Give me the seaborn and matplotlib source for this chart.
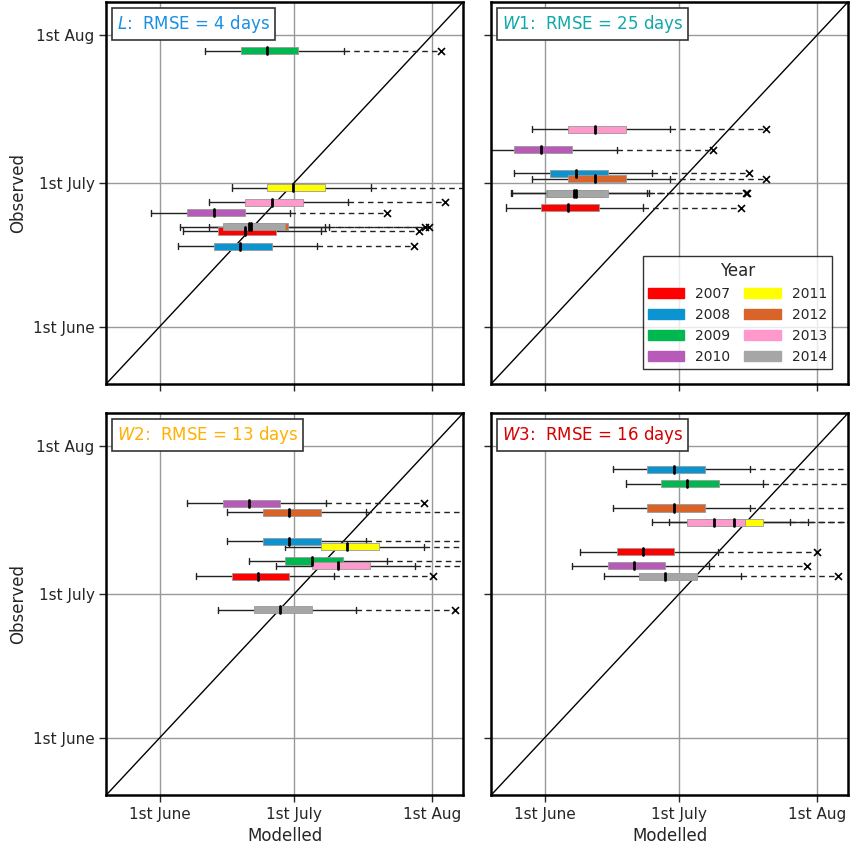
import matplotlib
matplotlib.use("Agg")
import matplotlib.pyplot as plt
import matplotlib.patches as mpatches
import seaborn as sns

sns.set_style("white")
plt.rcParams['font.family'] = ['DejaVu Sans']

years = [2007, 2008, 2009, 2010, 2011, 2012, 2013, 2014]
year_colors = ['#ff0000', '#0b94d0', '#00b84f', '#b85ab8', '#ffff00', '#d8642a', '#ff99cc', '#a6a6a6']

# day of year: 152 = 1st June, 182 = 1st July, 213 = 1st Aug
# per year: observed, whisker low, q1, median, q3, whisker high, max (x marker)
L_obs = [172.0, 168.8, 209.7, 175.8, 181.1, 172.9, 178.0, 172.9]
L_stats = [
    [157.2, 165.0, 171.1, 178.1, 188.2, 210.0],
    [156.0, 164.1, 170.0, 177.2, 187.3, 208.9],
    [162.1, 170.2, 176.0, 183.0, 193.3, 215.0],
    [150.0, 158.0, 164.1, 171.1, 181.2, 203.0],
    [168.2, 176.0, 181.9, 189.1, 199.2, 225.0],
    [163.0, 167.0, 172.5, 180.8, 189.0, 211.5],
    [163.0, 171.1, 177.2, 184.1, 194.2, 216.0],
    [156.5, 166.2, 172.0, 180.1, 189.8, 212.2],
]
W1_obs = [176.9, 184.1, 179.9, 189.0, 250.0, 182.9, 193.3, 179.9]
W1_stats = [
    [143.3, 151.1, 157.1, 164.1, 174.1, 196.0],
    [145.1, 153.1, 159.1, 166.1, 176.1, 197.8],
    [144.4, 152.2, 158.5, 165.5, 175.0, 197.4],
    [138.0, 145.1, 151.1, 158.0, 168.1, 189.7],
    [0, 0, 0, 0, 0, 0],
    [149.1, 157.1, 163.2, 170.1, 180.1, 201.6],
    [149.1, 157.1, 163.2, 170.1, 180.1, 201.6],
    [144.6, 152.4, 159.1, 166.1, 175.4, 197.1],
]
W2_obs = [185.8, 193.1, 189.0, 201.1, 192.0, 199.2, 188.0, 178.8]
W2_stats = [
    [160.1, 168.2, 174.0, 181.0, 191.1, 213.1],
    [167.0, 175.1, 181.0, 188.2, 198.3, 224.0],
    [172.0, 180.1, 186.2, 193.1, 203.0, 227.0],
    [158.1, 166.2, 172.0, 179.0, 189.3, 211.1],
    [180.1, 188.2, 194.0, 201.2, 211.1, 226.0],
    [167.0, 175.1, 181.0, 188.2, 198.3, 225.0],
    [178.1, 186.2, 192.0, 199.0, 209.1, 228.0],
    [165.0, 173.1, 179.0, 186.2, 196.0, 218.1],
]
W3_obs = [190.9, 208.2, 205.2, 188.0, 197.1, 200.1, 197.1, 185.8]
W3_stats = [
    [160.0, 168.1, 174.1, 181.0, 190.8, 212.9],
    [167.2, 175.0, 181.0, 187.9, 198.0, 225.0],
    [170.1, 178.1, 183.9, 191.1, 200.9, 226.0],
    [158.0, 166.1, 172.1, 179.0, 188.8, 210.7],
    [179.9, 188.0, 194.4, 200.9, 210.9, 227.0],
    [167.2, 175.0, 181.0, 187.9, 198.0, 225.0],
    [176.1, 183.9, 190.0, 196.9, 206.9, 228.0],
    [165.2, 173.0, 179.0, 186.0, 196.0, 217.6],
]

# drawing order per panel (later on top)
panels = [
    ("L", "4", '#1a8fe3', L_obs, L_stats, [5, 0, 1, 2, 3, 4, 6, 7]),
    ("W1", "25", '#12a8a8', W1_obs, W1_stats, [2, 0, 1, 3, 5, 7, 6]),
    ("W2", "13", '#ffb000', W2_obs, W2_stats, [0, 1, 2, 3, 5, 4, 7, 6]),
    ("W3", "16", '#d40000', W3_obs, W3_stats, [0, 1, 2, 3, 5, 4, 6, 7]),
]

tick_pos = [152, 182, 213]
tick_lab = ["1st June", "1st July", "1st Aug"]
lim = (140, 220)
bh = 1.5
ch = 1.3

fig, axes = plt.subplots(2, 2, figsize=(8.5, 8.48), dpi=100, sharex=True, sharey=True)
fig.subplots_adjust(left=0.125, right=0.998, top=0.998, bottom=0.0625, wspace=0.078, hspace=0.076)

for ax, (name, rmse, tcol, obs, stats, ordr) in zip(axes.flat, panels):
    ax.set_xlim(lim)
    ax.set_ylim(lim)
    ax.set_xticks(tick_pos)
    ax.set_yticks(tick_pos)
    ax.set_xticklabels(tick_lab, fontsize=11)
    ax.set_yticklabels(tick_lab, fontsize=11)
    ax.grid(True, color='#999999', lw=1)
    ax.set_axisbelow(True)
    ax.tick_params(length=5, width=1, direction='out', bottom=True, left=True)
    for s in ax.spines.values():
        s.set_color('black')
        s.set_linewidth(1.8)
    sns.lineplot(x=list(lim), y=list(lim), ax=ax, color='black', lw=1)
    for i in ordr:
        lo, q1, med, q3, hi, mx = stats[i]
        y = obs[i]
        ax.plot([lo, q1], [y, y], color='#222222', lw=1)
        ax.plot([q3, hi], [y, y], color='#222222', lw=1)
        ax.plot([lo, lo], [y - ch / 2, y + ch / 2], color='#222222', lw=1)
        ax.plot([hi, hi], [y - ch / 2, y + ch / 2], color='#222222', lw=1)
        ax.plot([hi, mx], [y, y], color='#222222', lw=1, ls=(0, (4, 3)))
        ax.add_patch(mpatches.Rectangle((q1, y - bh / 2), q3 - q1, bh,
                                        facecolor=year_colors[i], edgecolor='#999999', lw=0.6, zorder=3))
        ax.plot([med, med], [y - bh / 2, y + bh / 2], color='black', lw=2, zorder=4)
        ax.scatter([mx], [y], marker='x', color='black', s=25, lw=1.2, zorder=4)
    ax.text(0.03, 0.97, f"${name}$:  RMSE = {rmse} days", transform=ax.transAxes, ha='left', va='top',
            fontsize=12, color=tcol,
            bbox=dict(boxstyle='square,pad=0.3', facecolor='white', edgecolor='#333333', lw=1.2))
    ax.set_xlabel("")
    ax.set_ylabel("")

axes[0, 0].set_ylabel("Observed", fontsize=12)
axes[1, 0].set_ylabel("Observed", fontsize=12)
axes[1, 0].set_xlabel("Modelled", fontsize=12)
axes[1, 1].set_xlabel("Modelled", fontsize=12)

handles = [mpatches.Patch(color=c, label=str(y)) for y, c in zip(years, year_colors)]
axes[0, 1].legend(handles=handles, title="Year", ncol=2, loc='lower right', fontsize=10,
                  title_fontsize=12, frameon=True, edgecolor='black', fancybox=False,
                  handlelength=2.6, columnspacing=1.0, bbox_to_anchor=(0.975, 0.02))

fig.savefig("out.png", dpi=100)
